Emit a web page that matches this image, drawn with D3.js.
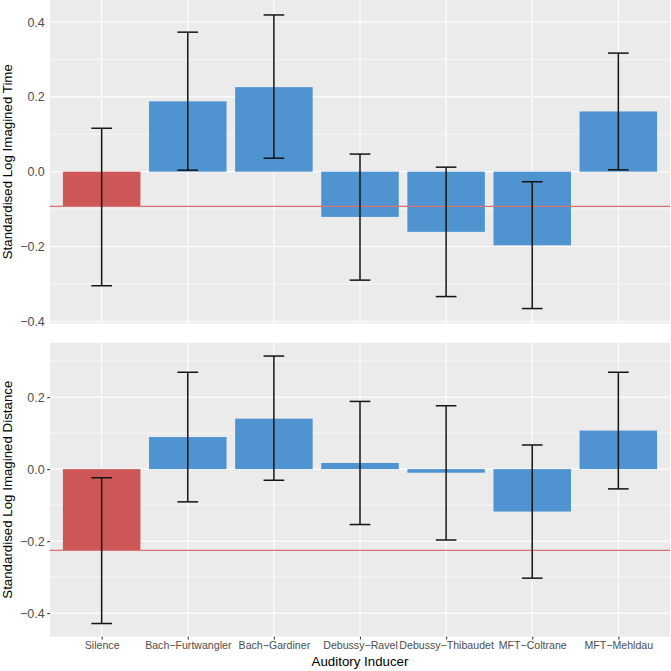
<!DOCTYPE html>
<html>
<head>
<meta charset="utf-8">
<script src="https://cdn.jsdelivr.net/npm/d3@7"></script>
<style>
  body { margin: 0; background: #fff; }
  svg { display: block; font-family: "Liberation Sans", Arial, sans-serif; }
</style>
</head>
<body>
<svg width="671" height="671"></svg>
<script>
// data
var categories = ["Silence", "Bach\u2212Furtwangler", "Bach\u2212Gardiner", "Debussy\u2212Ravel",
                  "Debussy\u2212Thibaudet", "MFT\u2212Coltrane", "MFT\u2212Mehldau"];

var timeMean = [-0.093, 0.188, 0.226, -0.121, -0.161, -0.197, 0.161];
var timeLo   = [-0.305, 0.004, 0.036, -0.290, -0.334, -0.366, 0.005];
var timeHi   = [0.116, 0.373, 0.419, 0.047, 0.012, -0.027, 0.317];

var distMean = [-0.226, 0.089, 0.140, 0.017, -0.010, -0.118, 0.107];
var distLo   = [-0.429, -0.091, -0.031, -0.154, -0.197, -0.303, -0.055];
var distHi   = [-0.024, 0.269, 0.314, 0.188, 0.176, 0.067, 0.269];

var timeTicks = [-0.4, -0.2, 0, 0.2, 0.4];
var timeMinor = [-0.3, -0.1, 0.1, 0.3];
var distTicks = [-0.4, -0.2, 0, 0.2];
var distMinor = [-0.3, -0.1, 0.1, 0.3];

var svg = d3.select("svg");
var left = 50, right = 670;
var red = "#cd5657", blue = "#4f93d0", hlineCol = "#d77373";

var x = d3.scalePoint().domain(categories).range([left, right]).padding(0.6);
var step = x.step();
var fmt = d3.format(".1f");

function panel(top, bottom, domain, mean, lo, hi, ticks, minor, title, showTicks) {
    var y = d3.scaleLinear().domain(domain).range([bottom, top]);
    var g = svg.append("g");

    g.append("rect")
        .attr("x", left).attr("y", top)
        .attr("width", right - left).attr("height", bottom - top)
        .attr("fill", "#ebebeb");

    // grid
    g.selectAll(".minor").data(minor).enter().append("line")
        .attr("x1", left).attr("x2", right)
        .attr("y1", d => y(d)).attr("y2", d => y(d))
        .attr("stroke", "#fff").attr("stroke-width", 0.6);
    g.selectAll(".major").data(ticks).enter().append("line")
        .attr("x1", left).attr("x2", right)
        .attr("y1", d => y(d)).attr("y2", d => y(d))
        .attr("stroke", "#fff").attr("stroke-width", 1.1);
    g.selectAll(".vgrid").data(categories).enter().append("line")
        .attr("x1", d => x(d)).attr("x2", d => x(d))
        .attr("y1", top).attr("y2", bottom)
        .attr("stroke", "#fff").attr("stroke-width", 1.1);

    // bars
    g.selectAll(".bar").data(categories).enter().append("rect")
        .attr("x", d => x(d) - 0.45 * step)
        .attr("width", 0.9 * step)
        .attr("y", (d, i) => y(Math.max(0, mean[i])))
        .attr("height", (d, i) => Math.abs(y(mean[i]) - y(0)))
        .attr("fill", (d, i) => i === 0 ? red : blue);

    // reference line at the Silence mean
    g.append("line")
        .attr("x1", left).attr("x2", right)
        .attr("y1", y(mean[0])).attr("y2", y(mean[0]))
        .attr("stroke", hlineCol).attr("stroke-width", 1.3);

    // error bars
    var cap = 0.12 * step;
    var eb = g.selectAll(".err").data(categories).enter().append("g");
    eb.append("line")
        .attr("x1", d => x(d)).attr("x2", d => x(d))
        .attr("y1", (d, i) => y(lo[i])).attr("y2", (d, i) => y(hi[i]));
    eb.append("line")
        .attr("x1", d => x(d) - cap).attr("x2", d => x(d) + cap)
        .attr("y1", (d, i) => y(lo[i])).attr("y2", (d, i) => y(lo[i]));
    eb.append("line")
        .attr("x1", d => x(d) - cap).attr("x2", d => x(d) + cap)
        .attr("y1", (d, i) => y(hi[i])).attr("y2", (d, i) => y(hi[i]));
    eb.selectAll("line").attr("stroke", "#141414").attr("stroke-width", 1.5);

    // y axis
    var ax = g.append("g")
        .attr("transform", "translate(" + left + ",0)")
        .call(d3.axisLeft(y).tickValues(ticks).tickFormat(fmt)
            .tickSize(showTicks ? 2.75 : 0).tickPadding(showTicks ? 2.5 : 5.2));
    ax.select(".domain").remove();
    ax.selectAll(".tick line").attr("stroke", "#333").attr("stroke-width", 1.1);
    ax.selectAll(".tick text")
        .attr("fill", "#4d4d4d").style("font-size", "12.5px")
        .style("font-family", "'Liberation Sans', Arial, sans-serif");

    svg.append("text")
        .attr("transform", "translate(12," + ((top + bottom) / 2) + ") rotate(-90)")
        .attr("text-anchor", "middle")
        .style("font-size", "13.3px")
        .attr("fill", "#000")
        .text(title);

    return y;
}

panel(0, 323.5, [-0.406, 0.459], timeMean, timeLo, timeHi, timeTicks, timeMinor,
      "Standardised Log Imagined Time", false);
panel(342.7, 636.7, [-0.4656, 0.3511], distMean, distLo, distHi, distTicks, distMinor,
      "Standardised Log Imagined Distance", true);

// x axis under bottom panel
var xa = svg.append("g")
    .attr("transform", "translate(0,636.7)")
    .call(d3.axisBottom(x).tickSize(2.75).tickPadding(2.5));
xa.select(".domain").remove();
xa.selectAll(".tick line").attr("stroke", "#333").attr("stroke-width", 1.1);
xa.selectAll(".tick text")
    .attr("fill", "#4d4d4d").style("font-size", "10.6px")
    .style("font-family", "'Liberation Sans', Arial, sans-serif");

svg.append("text")
    .attr("x", (left + right) / 2).attr("y", 666)
    .attr("text-anchor", "middle")
    .style("font-size", "13.3px")
    .text("Auditory Inducer");
</script>
</body>
</html>
